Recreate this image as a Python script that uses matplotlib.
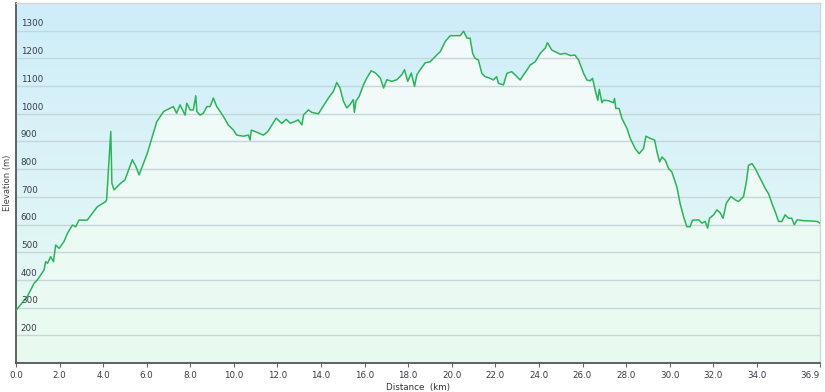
import numpy as np
import matplotlib
matplotlib.use("Agg")
import matplotlib.pyplot as plt
from matplotlib.transforms import blended_transform_factory

# elevation profile (km, m)
distance_km = [
    0.00, 0.52, 0.83, 0.98, 1.29, 1.36, 1.45, 1.59, 1.72, 1.82, 1.98, 2.20, 2.36, 2.59,
    2.74, 2.89, 3.27, 3.50, 3.73, 4.12, 4.16, 4.35, 4.40, 4.50, 4.65, 4.80, 5.00, 5.34,
    5.50, 5.65, 5.80, 6.03, 6.15, 6.46, 6.77, 7.22, 7.37, 7.53, 7.76, 7.84, 7.99, 8.14,
    8.25, 8.30, 8.45, 8.60, 8.76, 8.91, 9.06, 9.21, 9.37, 9.52, 9.75, 9.98, 10.13, 10.44,
    10.67, 10.74, 10.80, 11.00, 11.35, 11.55, 11.74, 11.94, 12.20, 12.40, 12.58, 12.80,
    12.95, 13.12, 13.20, 13.42, 13.57, 13.88, 14.10, 14.34, 14.57, 14.72, 14.87, 15.03,
    15.18, 15.33, 15.48, 15.53, 15.60, 15.75, 15.95, 16.10, 16.30, 16.49, 16.72, 16.87,
    17.02, 17.25, 17.48, 17.71, 17.83, 17.98, 18.14, 18.29, 18.40, 18.55, 18.78, 19.01,
    19.16, 19.31, 19.47, 19.70, 19.93, 20.39, 20.54, 20.70, 20.84, 20.96, 21.07, 21.22,
    21.38, 21.53, 21.76, 21.91, 22.06, 22.14, 22.37, 22.53, 22.75, 22.91, 23.14, 23.29,
    23.45, 23.60, 23.83, 24.06, 24.29, 24.39, 24.59, 24.82, 24.98, 25.20, 25.45, 25.65,
    25.82, 26.05, 26.20, 26.35, 26.46, 26.58, 26.70, 26.77, 26.89, 26.97, 27.19, 27.42,
    27.47, 27.53, 27.68, 27.81, 28.04, 28.19, 28.42, 28.60, 28.80, 28.91, 29.11, 29.31,
    29.42, 29.54, 29.65, 29.80, 29.95, 30.10, 30.33, 30.48, 30.64, 30.79, 30.94, 31.05,
    31.18, 31.33, 31.48, 31.63, 31.74, 31.83, 32.02, 32.17, 32.33, 32.45, 32.60, 32.81,
    33.01, 33.16, 33.39, 33.52, 33.62, 33.78, 33.93, 34.08, 34.24, 34.39, 34.54, 34.70,
    34.85, 35.00, 35.15, 35.30, 35.45, 35.60, 35.72, 35.85, 36.15, 36.45, 36.78, 36.90,
]
elevation_m = [
    290, 340, 388, 400, 436, 466, 460, 484, 466, 526, 514, 538, 568, 598,
    592, 616, 616, 640, 664, 683, 690, 936, 749, 725, 737, 749, 761, 834,
    810, 779, 810, 858, 890, 971, 1008, 1026, 1002, 1032, 995, 1038, 1014, 1014,
    1065, 1008, 995, 1002, 1026, 1026, 1057, 1026, 1008, 990, 959, 941, 923, 919,
    923, 905, 941, 935, 923, 935, 959, 984, 965, 980, 966, 972,
    978, 960, 996, 1014, 1005, 1000, 1027, 1057, 1081, 1113, 1093, 1045,
    1021, 1033, 1051, 1005, 1045, 1063, 1105, 1129, 1155, 1148, 1129, 1093,
    1123, 1117, 1123, 1141, 1159, 1117, 1147, 1099, 1141, 1159, 1184, 1188,
    1200, 1212, 1224, 1261, 1282, 1282, 1298, 1273, 1273, 1218, 1200, 1194,
    1146, 1134, 1128, 1122, 1134, 1110, 1104, 1146, 1152, 1140, 1122, 1140,
    1158, 1176, 1188, 1218, 1237, 1257, 1230, 1221, 1215, 1218, 1210, 1212,
    1194, 1146, 1122, 1119, 1128, 1086, 1049, 1088, 1040, 1049, 1047, 1040,
    1055, 1019, 1019, 983, 947, 911, 874, 856, 874, 919, 911, 905,
    862, 826, 844, 832, 802, 790, 736, 676, 628, 592, 592, 616,
    616, 617, 605, 611, 587, 623, 635, 653, 641, 623, 677, 701,
    689, 683, 701, 754, 814, 820, 802, 778, 754, 730, 711, 675,
    645, 611, 611, 635, 623, 623, 599, 617, 614, 613, 611, 605,
]

x_ticks = [0, 2, 4, 6, 8, 10, 12, 14, 16, 18, 20, 22, 24, 26, 28, 30, 32, 34, 36.9]
y_grid = [200, 300, 400, 500, 600, 700, 800, 900, 1000, 1100, 1200, 1300]

plt.rcParams['font.family'] = ['DejaVu Sans']

fig = plt.figure(figsize=(8.25, 3.92), dpi=100)
ax = fig.add_axes([16 / 825, 1 - 363 / 392, 804 / 825, 360 / 392])
ax.set_xlim(0, 36.9)
ax.set_ylim(100, 1400)

# background gradient light blue -> light mint
top = np.array([206, 237, 250]) / 255
bottom = np.array([234, 251, 243]) / 255
t = np.linspace(0, 1, 256)[:, None]
grad = (top * (1 - t) + bottom * t)[:, None, :]
ax.imshow(grad, extent=[0, 1, 0, 1], transform=ax.transAxes, aspect='auto', zorder=0)

# fill under the profile
fill = ax.fill_between(distance_km, elevation_m, 100, color='none', zorder=1)
fill_top = np.array([244, 251, 252]) / 255
fill_bot = np.array([232, 250, 240]) / 255
fgrad = (fill_top * (1 - t) + fill_bot * t)[:, None, :]
im = ax.imshow(fgrad, extent=[0, 36.9, 100, 1300], aspect='auto', zorder=1)
im.set_clip_path(fill.get_paths()[0], transform=ax.transData)

for v in y_grid:
    ax.axhline(v, color='#c6d6db', lw=1.0, zorder=2)

trans = blended_transform_factory(ax.transAxes, ax.transData)
for v in y_grid:
    ax.text(0.006, v + 8, str(v), transform=trans, fontsize=6.3, color='#3a3a4a',
            va='bottom', ha='left', zorder=4)

ax.plot(distance_km, elevation_m, color='#2bb35a', lw=1.1, zorder=3)

ax.set_xticks(x_ticks)
ax.set_xticklabels([f"{v:.1f}" for v in x_ticks], fontsize=6.3, color='#3a3a4a')
ax.get_xticklabels()[-1].set_horizontalalignment('right')
ax.set_yticks([])
ax.tick_params(axis='x', length=3, width=0.8, color='#666666', pad=3)
ax.set_xlabel("Distance  (km)", fontsize=6.3, color='#333333', labelpad=2)
ax.set_ylabel("Elevation (m)", fontsize=6, color='#444444', labelpad=3)

for side in ['left', 'bottom']:
    ax.spines[side].set_color('#555555')
    ax.spines[side].set_linewidth(1.3)
for side in ['top', 'right']:
    ax.spines[side].set_color('#d4d4d4')
    ax.spines[side].set_linewidth(1.0)

plt.savefig("out.png", dpi=100)
plt.close()
